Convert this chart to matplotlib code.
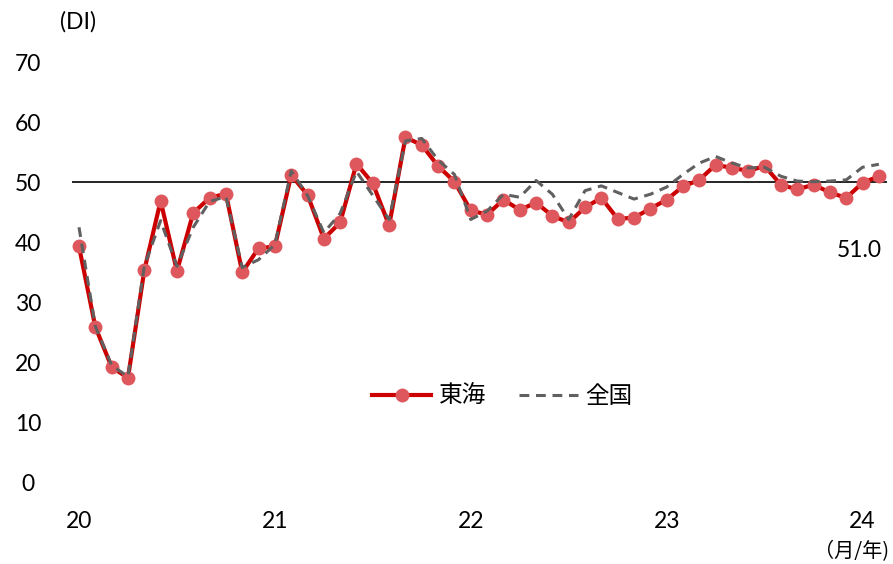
import matplotlib
matplotlib.use("Agg")
import matplotlib.pyplot as plt

plt.rcParams['font.family'] = ['Lato', 'Noto Sans CJK JP', 'DejaVu Sans']

# Monthly DI, Jan 2020 - Feb 2024
tokai = [39.3, 25.9, 19.2, 17.4, 35.3, 46.9, 35.2, 44.9, 47.4, 48.1, 35.0, 39.0,
         39.3, 51.2, 47.9, 40.6, 43.3, 53.1, 49.8, 42.8, 57.5, 56.2, 52.7, 50.1,
         45.3, 44.6, 47.1, 45.4, 46.6, 44.4, 43.3, 45.8, 47.4, 43.9, 44.1, 45.6,
         47.1, 49.3, 50.4, 52.9, 52.4, 51.9, 52.7, 49.6, 48.8, 49.6, 48.3, 47.4,
         49.9, 51.0]
national = [42.5, 26.0, 19.5, 17.6, 36.0, 43.6, 36.0, 42.5, 46.8, 47.6, 35.8, 37.1,
            39.6, 51.9, 47.8, 41.6, 44.8, 51.8, 47.8, 43.8, 56.9, 57.3, 53.7, 51.3,
            43.8, 45.2, 48.0, 47.5, 50.3, 48.0, 43.8, 48.6, 49.4, 48.3, 47.2, 48.0,
            49.2, 51.3, 53.2, 54.3, 53.2, 52.4, 52.5, 51.0, 50.2, 50.1, 50.2, 50.4,
            52.5, 53.0]
year_labels = ["20", "21", "22", "23", "24"]
year_ticks = [0, 12, 24, 36, 48]
months = list(range(len(tokai)))

fig = plt.figure(figsize=(8.93, 5.64), dpi=100)
ax = fig.add_axes([0.0806, 0.1449, 0.9127, 0.7447])

ax.axhline(50, color="black", lw=1.2, zorder=1)

ax.plot(months, tokai, color="#CC0000", lw=3.0, zorder=2,
        marker="o", markersize=10, markerfacecolor="#DE575C",
        markeredgecolor="#DE575C", markeredgewidth=0, label="東海")
ax.plot(months, national, color="#606060", lw=2.2, ls=(0, (3.2, 2.2)),
        zorder=3, label="全国")

ax.set_xlim(-0.43, 49.5)
ax.set_ylim(0, 70)
ax.set_yticks(range(0, 71, 10))
ax.set_xticks(year_ticks)
ax.set_xticklabels(year_labels)
for s in ax.spines.values():
    s.set_visible(False)
ax.tick_params(axis="both", length=0, labelsize=16.5, colors="black")
ax.tick_params(axis="x", pad=21)
ax.tick_params(axis="y", pad=31.5)
for lab in ax.get_yticklabels():
    lab.set_horizontalalignment("center")

ax.annotate(f"{tokai[-1]:.1f}", xy=(months[-1], tokai[-1]),
            xytext=(-20, -74), textcoords="offset pixels",
            ha="center", va="center", fontsize=16.5)

leg = ax.legend(loc="center", bbox_to_anchor=(0.528, 0.205), ncol=2,
                frameon=False, fontsize=17, handlelength=2.5,
                columnspacing=1.4, handletextpad=0.3)

fig.text(78 / 893, 1 - 22 / 564, "(DI)", ha="center", va="center", fontsize=16.5)
fig.text(889 / 893, 1 - 552 / 564, "（月/年)", ha="right", va="center",
         fontsize=14.5, family=['Noto Sans CJK JP', 'DejaVu Sans'])

fig.savefig("out.png", dpi=100)
